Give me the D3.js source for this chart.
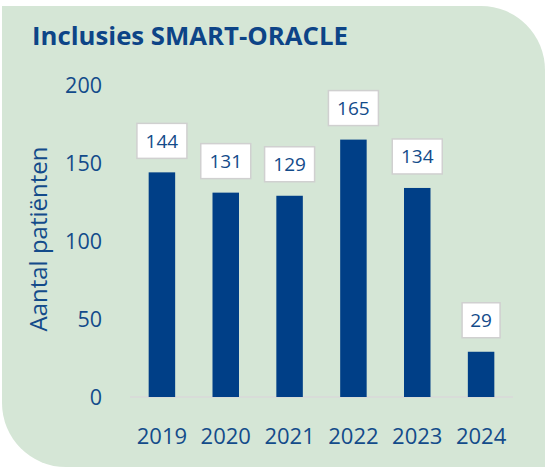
<!DOCTYPE html>
<html>
<head>
<meta charset="utf-8">
<script src="https://cdn.jsdelivr.net/npm/d3@7"></script>
<style>
  body { margin: 0; background: #fff; }
  svg { display: block; font-family: "Open Sans", sans-serif; }
</style>
</head>
<body>
<div id="chart"></div>
<script>
// chart data
const years = ["2019", "2020", "2021", "2022", "2023", "2024"];
const inclusions = [144, 131, 129, 165, 134, 29];
const yTicks = [0, 50, 100, 150, 200];

const width = 545;
const height = 467;
const textColor = "#134b8a";
const barColor = "#003f87";

const svg = d3.select("#chart").append("svg")
    .attr("width", width)
    .attr("height", height);

// green card with two rounded corners (top-right, bottom-left)
const L = 2, T = 6, R = width, B = height, r = 64;
svg.append("path")
    .attr("d", `M${L},${T} H${R - r} A${r},${r} 0 0 1 ${R},${T + r} V${B} H${L + r} A${r},${r} 0 0 1 ${L},${B - r} Z`)
    .attr("fill", "#d5e6d6");

svg.append("text")
    .attr("x", 32)
    .attr("y", 45)
    .attr("fill", "#0d4487")
    .attr("font-weight", 700)
    .attr("font-size", 25.5)
    .attr("textLength", 316)
    .attr("lengthAdjust", "spacingAndGlyphs")
    .text("Inclusies SMART-ORACLE");

const x = d3.scaleBand()
    .domain(years)
    .range([130, 513])
    .paddingInner(0.585)
    .paddingOuter(0.2925);

const y = d3.scaleLinear()
    .domain([0, 200])
    .range([397, 85]);

// baseline
svg.append("line")
    .attr("x1", 130).attr("x2", 513)
    .attr("y1", y(0)).attr("y2", y(0))
    .attr("stroke", "#d9d9d9")
    .attr("stroke-width", 1.5);

// y tick labels
svg.append("g")
    .selectAll("text")
    .data(yTicks)
    .enter().append("text")
    .attr("x", 102)
    .attr("y", d => y(d))
    .attr("dy", "0.36em")
    .attr("text-anchor", "end")
    .attr("fill", textColor)
    .attr("font-size", 21.5)
    .text(d => d);

// y axis title
svg.append("text")
    .attr("transform", "translate(47,239) rotate(-90)")
    .attr("text-anchor", "middle")
    .attr("fill", textColor)
    .attr("font-size", 24)
    .text("Aantal patiënten");

// x labels
svg.append("g")
    .selectAll("text")
    .data(years)
    .enter().append("text")
    .attr("x", d => x(d) + x.bandwidth() / 2)
    .attr("y", 444)
    .attr("text-anchor", "middle")
    .attr("fill", textColor)
    .attr("font-size", 22)
    .text(d => d);

// bars
svg.append("g")
    .selectAll("rect")
    .data(inclusions)
    .enter().append("rect")
    .attr("x", (d, i) => x(years[i]))
    .attr("y", d => y(d))
    .attr("width", x.bandwidth())
    .attr("height", d => y(0) - y(d))
    .attr("fill", barColor);

// value labels in white boxes
const labels = svg.append("g")
    .selectAll("g")
    .data(inclusions)
    .enter().append("g")
    .attr("transform", (d, i) => `translate(${x(years[i]) + x.bandwidth() / 2},${y(d) - 14})`);

labels.append("rect")
    .attr("x", d => String(d).length > 2 ? -25 : -19)
    .attr("y", -35)
    .attr("width", d => String(d).length > 2 ? 50 : 38)
    .attr("height", 35)
    .attr("fill", "#fff")
    .attr("stroke", "#d0d0d0")
    .attr("stroke-width", 1.5);

labels.append("text")
    .attr("y", -17.5)
    .attr("dy", "0.36em")
    .attr("text-anchor", "middle")
    .attr("fill", textColor)
    .attr("font-size", 19)
    .text(d => d);
</script>
</body>
</html>
